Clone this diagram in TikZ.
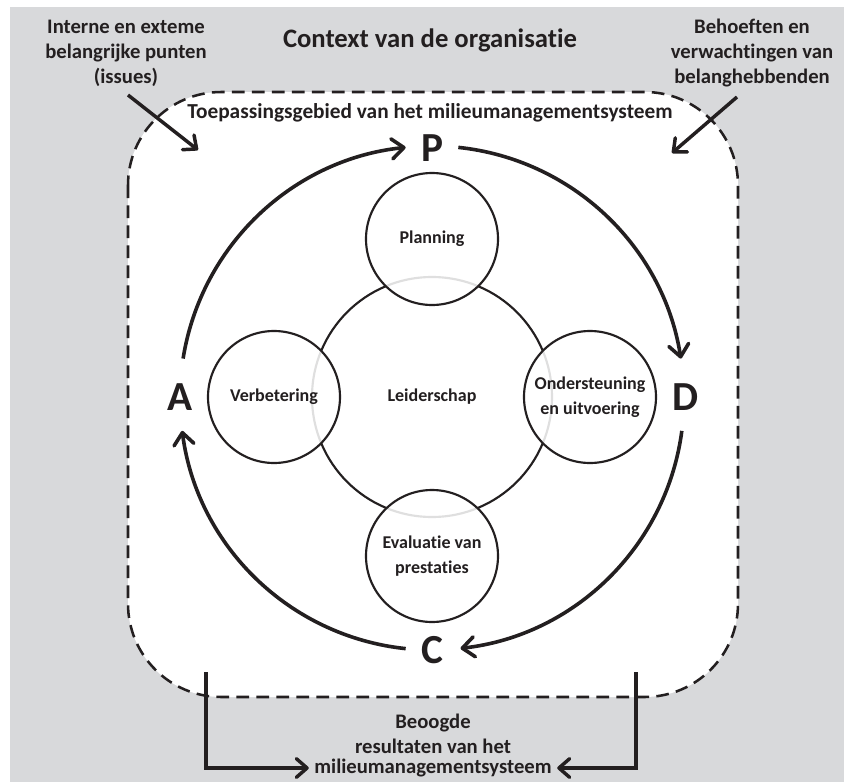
\documentclass[tikz,border=0pt]{standalone}
\usepackage{fontspec}
\setmainfont{Carlito}[Ligatures=NoCommon]
\usetikzlibrary{arrows.meta,calc}
\definecolor{bggray}{RGB}{216,217,219}
\definecolor{ink}{RGB}{35,31,32}
\begin{document}
\begin{tikzpicture}[x=0.75pt,y=-0.75pt,
  lbl/.style={font=\bfseries\fontsize{13.5}{18.5}\selectfont, text=ink, align=center, inner sep=0pt},
  outer/.style={font=\bfseries\fontsize{15.5}{18.8}\selectfont, text=ink, align=center, inner sep=0pt},
  ttl/.style={font=\bfseries\fontsize{20}{24}\selectfont, text=ink, inner sep=0pt},
  letter/.style={font=\bfseries\fontsize{31}{34}\selectfont, text=ink, inner sep=0pt},
  topic/.style={circle, draw=ink, line width=1.6pt, minimum size=99pt, fill=white,
    fill opacity=0.86, text opacity=1, draw opacity=1, lbl},
  core/.style={circle, draw=ink, line width=1.6pt, minimum size=180pt, fill=white, lbl},
  cyc/.style={draw=ink, line width=2.7pt, -{Straight Barb[length=9pt,width=15pt,round]}},
  flow/.style={draw=ink, line width=2.6pt, -{Straight Barb[length=8pt,width=14pt,round]}},
  scope/.style={draw=ink, line width=1.9pt, dash pattern=on 9.5pt off 5.5pt, fill=white,
    rounded corners=70pt}
]
\useasboundingbox (0,0) rectangle (844,782);
\fill[white] (0,0) rectangle (844,782);
\fill[bggray] (10,7) rectangle (844,782);

% outer context labels
\node[ttl] (ctx) at (430,40) {Context van de organisatie};
\node[outer] (issues) at (126,53) {Interne en exteme\\belangrijke punten\\(issues)};
\node[outer] (needs) at (752,53) {Behoeften en\\verwachtingen van\\belanghebbenden};

% scope of the management system
\path[scope] (128,92) rectangle (738,697);
\node[outer, font=\bfseries\fontsize{16}{19}\selectfont] (scopelbl) at (430,113)
  {Toepassingsgebied van het milieumanagementsysteem};

% inputs entering the scope
\coordinate (in1a) at (128,95);
\coordinate (in1b) at (198,150);
\coordinate (in2a) at (737,97);
\coordinate (in2b) at (672,153);
\draw[flow] (in1a) -- (in1b);
\draw[flow] (in2a) -- (in2b);

% leadership and the four clause circles
\node[core] (lead) at (432,397) {Leiderschap};
\node[topic] (plan) at (432,239) {Planning};
\node[topic] (do) at (590,397) {Ondersteuning\\en uitvoering};
\node[topic] (check) at (432,556) {Evaluatie van\\prestaties};
\node[topic] (act) at (274,397) {Verbetering};

% PDCA cycle
\coordinate (O) at (432,398);
\node[letter] (P) at (432,148) {P};
\node[letter] (D) at (686,397) {D};
\node[letter] (C) at (432,650) {C};
\node[letter] (A) at (180,397) {A};
\draw[cyc] ($(O)+(171:189pt)$) arc[start angle=171,end angle=96,radius=189pt];
\draw[cyc] ($(O)+(84:189pt)$) arc[start angle=84,end angle=9,radius=189pt];
\draw[cyc] ($(O)+(-7.5:189pt)$) arc[start angle=-7.5,end angle=-83.5,radius=189pt];
\draw[cyc] ($(O)+(-96:189pt)$) arc[start angle=-96,end angle=-172.5,radius=189pt];

% intended outcomes
\node[outer] (goal) at (433,733.5) {Beoogde\\resultaten van het};
\node[outer, inner xsep=4pt] (ems) at (433,768) {milieumanagementsysteem};
\coordinate (out1) at (206,672);
\coordinate (out2) at (636,672);
\draw[flow] (out1) |- (ems.west);
\draw[flow] (out2) |- (ems.east);
\end{tikzpicture}
\end{document}
